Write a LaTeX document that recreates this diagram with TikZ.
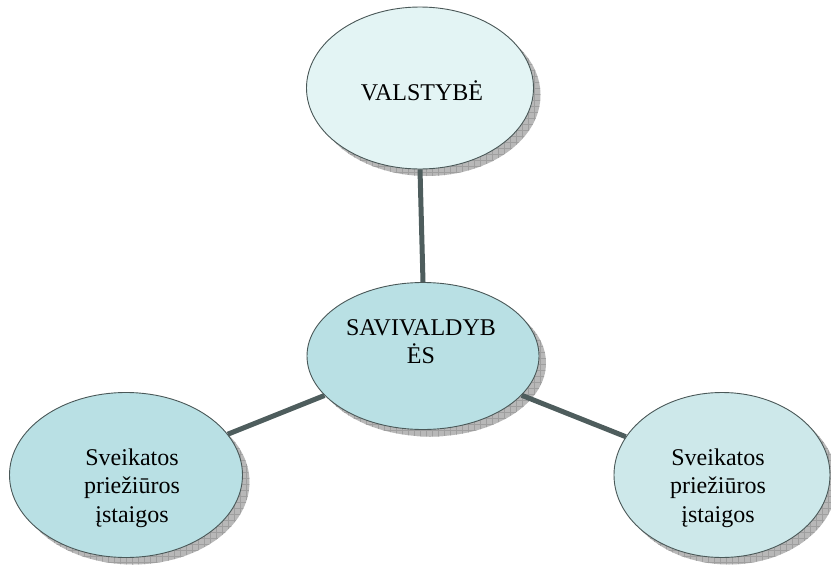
\documentclass[tikz,border=0pt]{standalone}
\usepackage{fontspec}
\setmainfont{Liberation Serif}
\usetikzlibrary{shadows,patterns.meta,shapes.geometric}
\definecolor{linkgray}{HTML}{4E5D5D}
\definecolor{rimgray}{HTML}{4A5858}
\definecolor{fillpale}{HTML}{E3F4F4}
\definecolor{fillmid}{HTML}{B9E0E4}
\definecolor{fillsoft}{HTML}{CDE8EA}
\definecolor{shadegray}{HTML}{B8B8B8}
\tikzset{
  shade one/.style={drop shadow={shadow xshift=7pt, shadow yshift=-7pt, opacity=1, fill=shadegray}},
  shade two/.style={drop shadow={shadow xshift=7pt, shadow yshift=-7pt, opacity=1,
      pattern={Lines[angle=0,distance=6pt,line width=0.5pt]}, pattern color=gray!75}},
  shade three/.style={drop shadow={shadow xshift=7pt, shadow yshift=-7pt, opacity=1,
      pattern={Lines[angle=90,distance=6pt,line width=0.5pt]}, pattern color=gray!75}},
  bubble/.style={ellipse, draw=rimgray, line width=0.9pt, inner sep=0pt,
      shade one, shade two, shade three},
  caption/.style={align=center, anchor=base, inner sep=0pt,
      font=\fontsize{24}{28.5}\selectfont, text=black},
  link/.style={draw=linkgray, line width=5pt}
}
\begin{document}
\begin{tikzpicture}[x=1pt,y=-1pt]
  \useasboundingbox (0,0) rectangle (831,568);
  % four shaded ellipses
  \node[bubble, fill=fillpale, minimum width=227pt, minimum height=162pt] (state) at (420,88) {};
  \node[bubble, fill=fillmid, minimum width=232pt, minimum height=147pt] (mun) at (423,356) {};
  \node[bubble, fill=fillmid, minimum width=233pt, minimum height=165pt] (left) at (126,475) {};
  \node[bubble, fill=fillsoft, minimum width=216pt, minimum height=165pt] (right) at (722,475) {};
  % connectors stop at the ellipse borders
  \draw[link] (state.south) -- (mun.north);
  \draw[link] (mun) -- (left);
  \draw[link] (mun) -- (right);
  % texts, placed by the baseline of their last line
  \node[caption] (tstate) at (422,100) {VALSTYBĖ};
  \node[caption] (tmun) at (421,363.5) {SAVIVALDYB\\ĖS};
  \node[caption] (tleft) at (132,522) {Sveikatos\\priežiūros\\įstaigos};
  \node[caption] (tright) at (718,522) {Sveikatos\\priežiūros\\įstaigos};
\end{tikzpicture}
\end{document}
